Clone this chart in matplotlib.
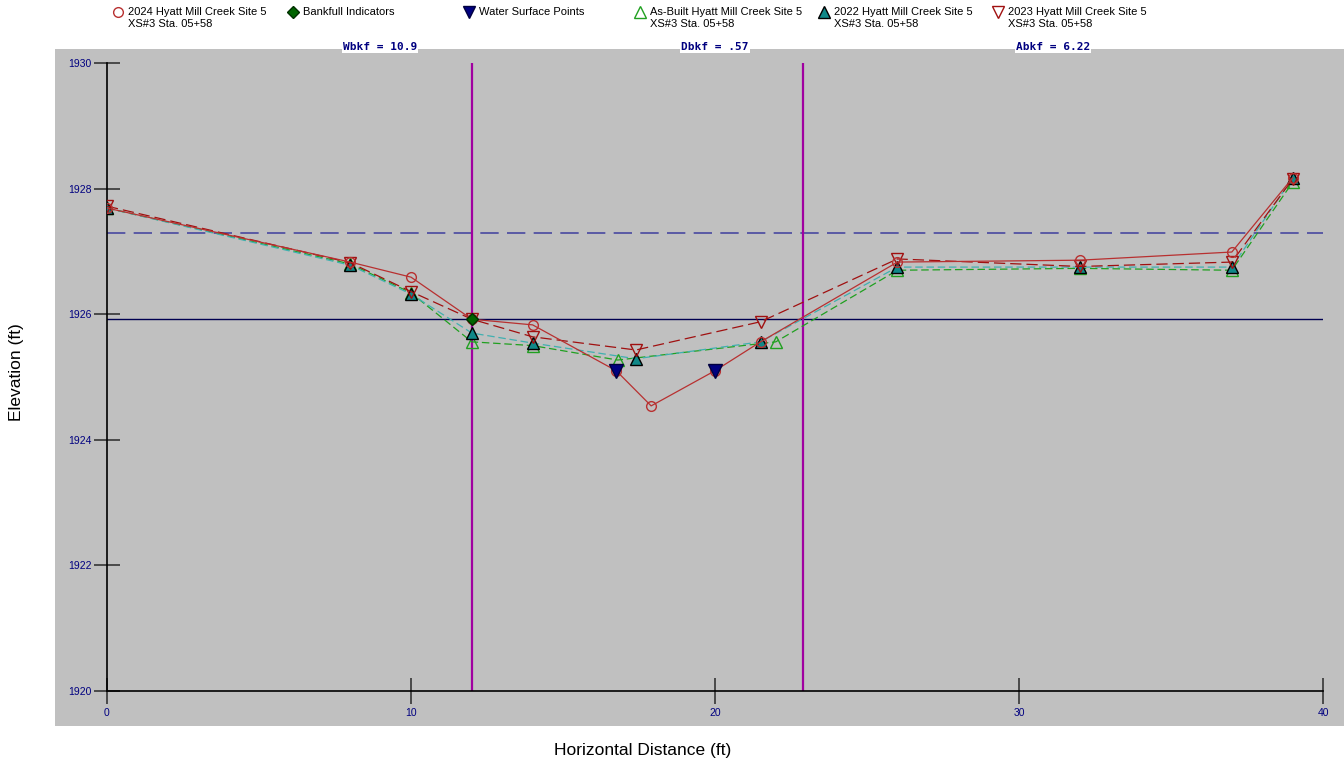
import matplotlib
matplotlib.use("Agg")
import matplotlib.pyplot as plt
from matplotlib.patches import Rectangle

plt.rcParams['font.family'] = ['Liberation Sans', 'DejaVu Sans']

# ---- data ----
x_2024 = [0, 8, 10, 12, 14, 16.75, 17.9, 20, 21.5, 26, 32, 37, 39]
y_2024 = [1927.69, 1926.83, 1926.59, 1925.92, 1925.83, 1925.10, 1924.54, 1925.10, 1925.56, 1926.83, 1926.86, 1926.99, 1928.17]

x_asb = [0, 8, 10, 12, 14, 16.8, 22.0, 26, 32, 37, 39]
y_asb = [1927.69, 1926.80, 1926.34, 1925.56, 1925.50, 1925.27, 1925.56, 1926.70, 1926.73, 1926.70, 1928.10]

x_2022 = [0, 8, 10, 12, 14, 17.4, 21.5, 26, 32, 37, 39]
y_2022 = [1927.69, 1926.78, 1926.32, 1925.70, 1925.54, 1925.29, 1925.56, 1926.75, 1926.75, 1926.75, 1928.17]

x_2023 = [0, 8, 10, 12, 14, 17.4, 21.5, 26, 32, 37, 39]
y_2023 = [1927.72, 1926.82, 1926.36, 1925.92, 1925.64, 1925.43, 1925.88, 1926.88, 1926.76, 1926.83, 1928.15]

x_ws = [16.75, 20.0]
y_ws = [1925.10, 1925.10]

x_bkf = [12.0]
y_bkf = [1925.92]

bkf_left, bkf_right = 12.0, 22.9
bkf_elev = 1925.92
flood_elev = 1927.29

legend_labels = [
    ("2024 Hyatt Mill Creek Site 5", "XS#3 Sta. 05+58"),
    ("Bankfull Indicators", None),
    ("Water Surface Points", None),
    ("As-Built Hyatt Mill Creek Site 5", "XS#3 Sta. 05+58"),
    ("2022 Hyatt Mill Creek Site 5", "XS#3 Sta. 05+58"),
    ("2023 Hyatt Mill Creek Site 5", "XS#3 Sta. 05+58"),
]
stats = ["Wbkf = 10.9", "Dbkf = .57", "Abkf = 6.22"]

W, H = 1344, 766
fig = plt.figure(figsize=(W / 100, H / 100), dpi=100)
fig.patch.set_facecolor("white")

# background pixel-space axes
bg = fig.add_axes([0, 0, 1, 1], zorder=-1)
bg.set_xlim(0, W)
bg.set_ylim(H, 0)
bg.axis("off")
bg.add_patch(Rectangle((55, 49), W - 55, 726 - 49, facecolor="#c0c0c0", edgecolor="none"))

# main axes
L, R, T, B = 107, 1323, 63, 691
ax = fig.add_axes([L / W, (H - B) / H, (R - L) / W, (B - T) / H])
ax.set_facecolor("none")
ax.set_xlim(0, 40)
ax.set_ylim(1920, 1930)
for s in ["top", "right"]:
    ax.spines[s].set_visible(False)
for s in ["left", "bottom"]:
    ax.spines[s].set_color("black")
    ax.spines[s].set_linewidth(1.2)
ax.set_xticks([0, 10, 20, 30, 40])
ax.set_yticks([1920, 1922, 1924, 1926, 1928, 1930])
ax.tick_params(direction="inout", length=19, width=1.3, color="#404040",
               labelcolor="#000080", labelsize=7.5, pad=1.5)
ax.tick_params(axis="x", pad=3)

c2024 = "#b83030"
c2023 = "#a01010"
cgreen = "#20a020"
cteal = "#40b0b0"

# reference lines
ax.plot([0, 40], [flood_elev, flood_elev], color="#4848a0", lw=1.2, dashes=(11, 5), zorder=2)
ax.plot([0, 40], [bkf_elev, bkf_elev], color="#000050", lw=1.0, zorder=2)
for xv in (bkf_left, bkf_right):
    ax.plot([xv, xv], [1920, 1930], color="#a000a0", lw=1.6, zorder=2)

# series
ax.plot(x_asb, y_asb, color=cgreen, lw=0.9, dashes=(6, 3), marker="^", ms=8,
        mfc="none", mec=cgreen, mew=1.0, zorder=3)
ax.plot(x_2022, y_2022, color=cteal, lw=0.9, dashes=(6, 3), marker="^", ms=8.5,
        mfc="#108888", mec="black", mew=1.0, zorder=4)
ax.plot(x_2023, y_2023, color=c2023, lw=0.9, dashes=(9, 4), marker="v", ms=8,
        mfc="none", mec=c2023, mew=1.0, zorder=5)
ax.plot(x_2024, y_2024, color=c2024, lw=0.9, marker="o", ms=7,
        mfc="none", mec=c2024, mew=1.0, zorder=6)
ax.plot(x_bkf, y_bkf, ls="none", marker="D", ms=6, mfc="#006400", mec="#003000", zorder=7)
ax.plot(x_ws, y_ws, ls="none", marker="v", ms=10, mfc="#000080", mec="#000040", zorder=7)

ax.set_xlabel("")
ax.set_ylabel("")
fig.text(17 / W, 1 - 372 / H, "Elevation (ft)", rotation=90, ha="center", va="center",
         fontsize=12.5, color="black")
fig.text(643 / W, 1 - 751 / H, "Horizontal Distance (ft)", ha="center", va="center",
         fontsize=12.5, color="black")

# legend (manual)
leg_x = [118, 293, 469, 640, 824, 998]
leg_style = [
    dict(marker="o", ms=7, mfc="none", mec=c2024),
    dict(marker="D", ms=6, mfc="#006400", mec="#003000"),
    dict(marker="v", ms=9, mfc="#000080", mec="#000040"),
    dict(marker="^", ms=9, mfc="none", mec=cgreen),
    dict(marker="^", ms=9, mfc="#108888", mec="black"),
    dict(marker="v", ms=9, mfc="none", mec=c2023),
]
for xp, st, (l1, l2) in zip(leg_x, leg_style, legend_labels):
    bg.plot([xp], [12], ls="none", **st)
    bg.text(xp + 10, 12, l1, ha="left", va="center", fontsize=8, color="black")
    if l2:
        bg.text(xp + 10, 24, l2, ha="left", va="center", fontsize=8, color="black")

for xc, s in zip([380, 715, 1053], stats):
    bg.text(xc, 47, s, ha="center", va="center", fontsize=8, fontweight="bold",
            family="DejaVu Sans Mono", color="#000080",
            bbox=dict(facecolor="white", edgecolor="none", pad=1.0))

fig.savefig("out.png", dpi=100, facecolor="white")
